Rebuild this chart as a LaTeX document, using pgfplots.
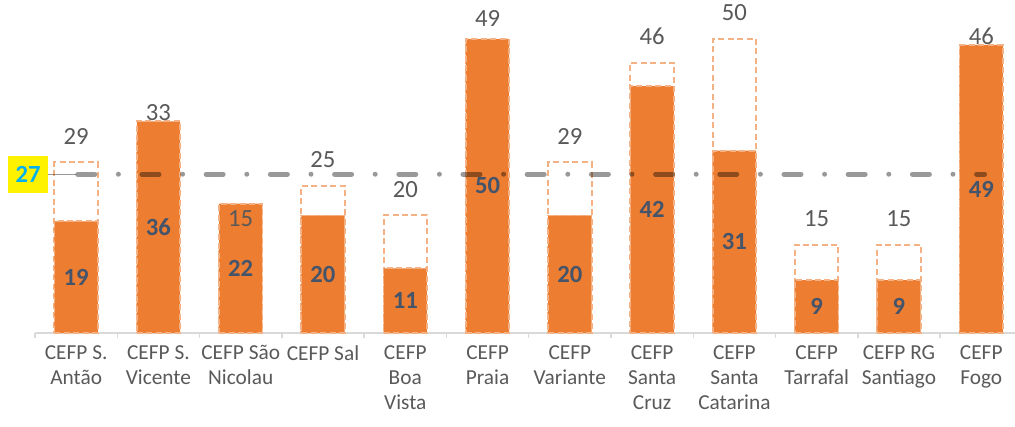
\documentclass[border=0pt]{standalone}
\usepackage{pgfplots}
\pgfplotsset{compat=1.18}
\usepackage{pgfplotstable}
\usepackage{fontspec}
\setmainfont{Carlito}
\definecolor{barorange}{HTML}{ED7D31}
\definecolor{barborder}{HTML}{F4B183}
\definecolor{txtgray}{HTML}{595959}
\definecolor{insidetxt}{HTML}{44546A}
\definecolor{lblcyan}{HTML}{00B0F0}
\definecolor{axgray}{HTML}{D9D9D9}
\pgfplotstableread{
x cap act
0 29 19
1 33 36
2 15 22
3 25 20
4 20 11
5 49 50
6 29 20
7 46 42
8 50 31
9 15 9
10 15 9
11 46 49
}\datatab
\begin{document}
\begin{tikzpicture}
\begin{axis}[
  scale only axis,
  width=735pt, height=249.75pt,
  xmin=-0.5, xmax=11.41,
  ymin=0, ymax=56.63,
  clip=false,
  hide y axis,
  axis x line*=bottom,
  x axis line style={draw=axgray, line width=1.1pt},
  xtick={0,...,11},
  minor xtick={-0.5,0.5,...,10.5},
  major tick length=0pt,
  minor tick length=3.75pt,
  tick align=outside,
  minor tick style={draw=axgray, line width=1.1pt},
  xticklabels={{CEFP S.\\Antão},{CEFP S.\\Vicente},{CEFP São\\Nicolau},{CEFP Sal},{CEFP\\Boa\\Vista},{CEFP\\Praia},{CEFP\\Variante},{CEFP\\Santa\\Cruz},{CEFP\\Santa\\Catarina},{CEFP\\Tarrafal},{CEFP RG\\Santiago},{CEFP\\Fogo}},
  xticklabel style={align=center, inner sep=0pt, yshift=-9pt, text=txtgray, font=\fontsize{16}{18.75}\selectfont},
  /pgf/number format/assume math mode=true,
]
% capacity (dashed outline bars)
\addplot[ybar, bar width=32.5pt, bar shift=0pt, fill=white, draw=barborder, line width=1.5pt,
  dash pattern=on 4.5pt off 2.6pt,
  nodes near coords,
  every node near coord/.style={anchor=south, inner sep=0pt, yshift=12.75pt, text=txtgray, font=\fontsize{18.5}{22}\selectfont, solid},
] table[x=x, y=cap] {\datatab};
% actual (orange bars)
\addplot[ybar, bar width=32.5pt, bar shift=0pt, fill=barorange, draw=barborder, line width=1.3pt,
  dash pattern=on 4.5pt off 2.6pt] table[x=x, y=act] {\datatab};
% inside labels
\addplot[draw=none, mark=none, nodes near coords, point meta=explicit,
  every node near coord/.style={anchor=center, inner sep=0pt, text=insidetxt, font=\bfseries\fontsize{18.5}{22}\selectfont},
] table[x=x, y expr=\thisrow{act}/2, meta=act] {\datatab};
% average line
\addplot[draw=black, draw opacity=0.4, line width=1.1pt] coordinates {(-0.342,27) (0,27)};
\addplot[draw=black, draw opacity=0.4, line width=3.75pt, line cap=round,
  dash pattern=on 12.75pt off 17.7pt on 0pt off 17.7pt] coordinates {(0.02,27) (11.04,27)};
\node[fill=yellow, text=lblcyan, font=\bfseries\fontsize{18.5}{22}\selectfont, minimum width=30pt, minimum height=27.75pt, inner sep=0pt] at (axis cs:-0.585,27) {27};
\end{axis}
\pgfresetboundingbox
\useasboundingbox (-26.25pt,-69.75pt) rectangle (735pt,249.75pt);
\end{tikzpicture}
\end{document}
